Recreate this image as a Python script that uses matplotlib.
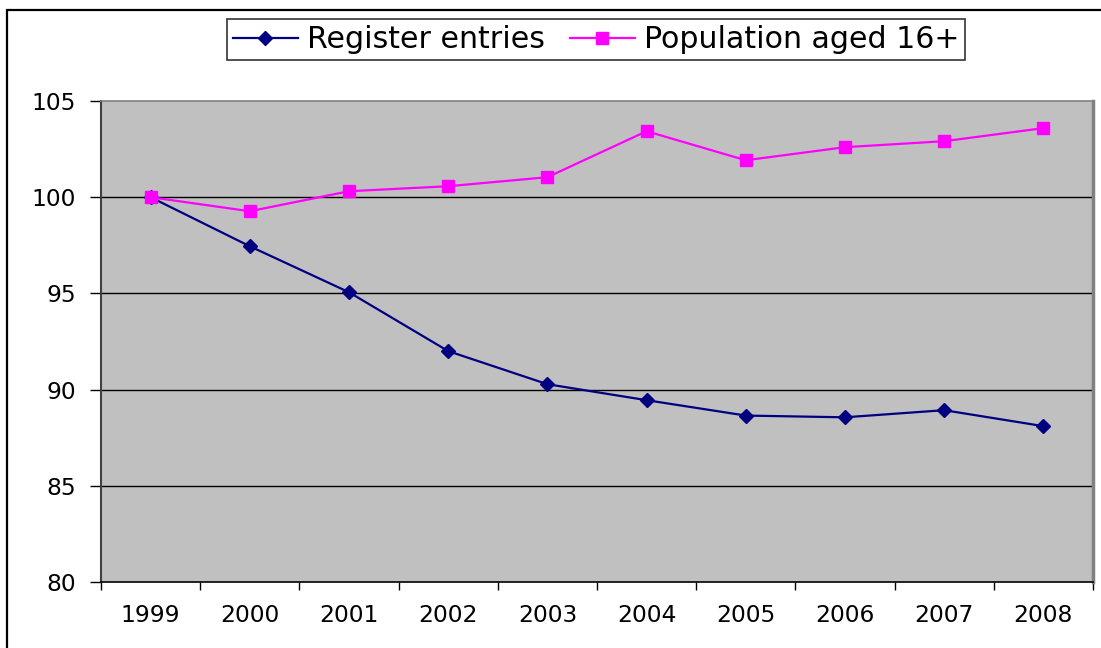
import matplotlib
matplotlib.use("Agg")
import matplotlib.pyplot as plt
from matplotlib.patches import Rectangle

years = ["1999", "2000", "2001", "2002", "2003", "2004", "2005", "2006", "2007", "2008"]
register_entries = [100.0, 97.45, 95.06, 92.0, 90.28, 89.45, 88.65, 88.56, 88.93, 88.1]
population_16plus = [100.0, 99.27, 100.31, 100.57, 101.04, 103.43, 101.92, 102.6, 102.91, 103.59]
y_ticks = [80, 85, 90, 95, 100, 105]

plt.rcParams['font.family'] = ['DejaVu Sans']

W, H = 1101, 648
fig = plt.figure(figsize=(W / 100, H / 100), dpi=100)
fig.patch.set_facecolor("white")

# outer chart border (extends beyond image right/bottom)
fig.add_artist(Rectangle((7 / W, -0.05), 1.2, 1 - 10 / H + 0.05, transform=fig.transFigure,
                         fill=False, edgecolor="black", linewidth=1.6, clip_on=False))

ax = fig.add_axes([101 / W, 1 - 582 / H, (1093 - 101) / W, (582 - 101) / H])
ax.set_facecolor("#C0C0C0")

x = list(range(len(years)))
ax.plot(x, register_entries, color="#000080", marker="D", markersize=6.8, linewidth=1.6,
        label="Register entries", zorder=3)
ax.plot(x, population_16plus, color="#FF00FF", marker="s", markersize=8.0, linewidth=1.6,
        label="Population aged 16+", zorder=3)

ax.set_xlim(-0.5, len(years) - 0.5)
ax.set_ylim(80, 105)
ax.set_yticks(y_ticks)
ax.set_yticklabels([str(v) for v in y_ticks], fontsize=16.8)
for v in y_ticks[1:-1]:
    ax.axhline(v, color="black", linewidth=1.0, zorder=1)

ax.set_xticks(x)
ax.set_xticklabels(years, fontsize=16.8)
ax.set_xticks([i - 0.5 for i in range(len(years) + 1)], minor=True)
ax.tick_params(axis="x", which="major", length=0, pad=16)
ax.tick_params(axis="x", which="minor", length=6, width=1.0, color="black", direction="out")
ax.tick_params(axis="y", length=8, width=1.0, direction="out", pad=10, color="black")

ax.spines["left"].set_color("#404040")
ax.spines["left"].set_linewidth(1.5)
ax.spines["bottom"].set_color("black")
ax.spines["bottom"].set_linewidth(1.2)
ax.spines["top"].set_color("#808080")
ax.spines["top"].set_linewidth(1.2)
ax.spines["right"].set_color("#808080")
ax.spines["right"].set_linewidth(2.5)

leg = fig.legend(loc="center", bbox_to_anchor=((224 + 968) / 2 / W, 1 - 39.5 / H), ncol=2,
                 fontsize=21.6, frameon=True, fancybox=False, edgecolor="black",
                 handlelength=2.15, handletextpad=0.3, columnspacing=0.85,
                 borderpad=0.2, borderaxespad=0)
leg.get_frame().set_linewidth(1.2)

fig.savefig("out.png", dpi=100)
